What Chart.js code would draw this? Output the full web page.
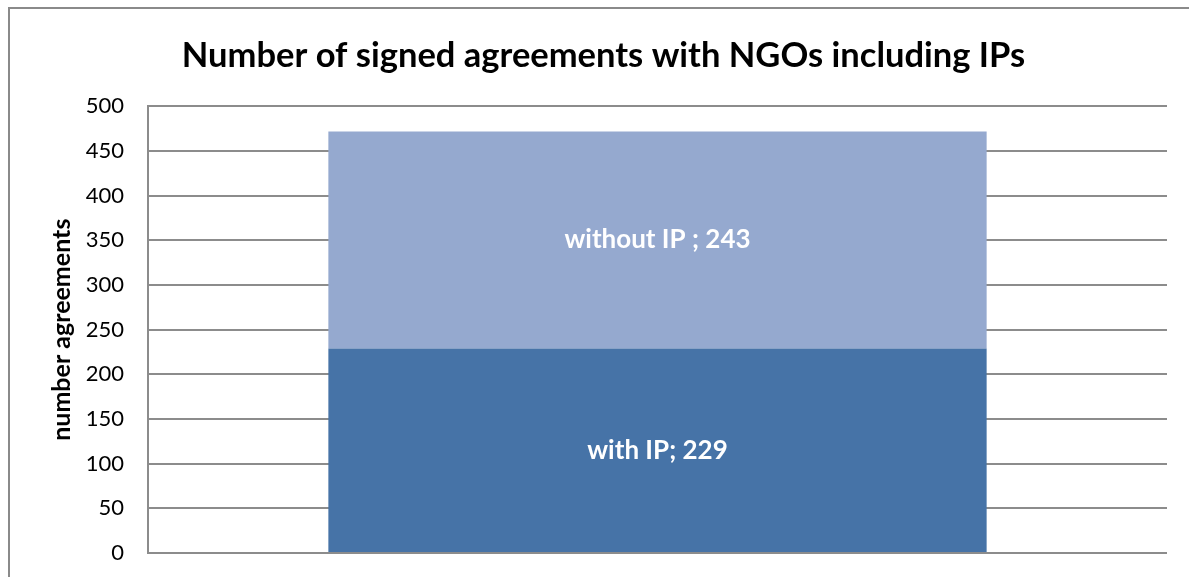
<!DOCTYPE html>
<html>
<head>
<meta charset="utf-8">
<script src="https://cdn.jsdelivr.net/npm/chart.js@4"></script>
<style>
  body { margin: 0; background: #fff; overflow: hidden; }
  #frame { position: absolute; left: 8px; top: 7px; width: 1200px; height: 600px; border: 2px solid #8a8a8a; box-sizing: border-box; }
  #wrap { position: absolute; left: 0; top: 0; width: 1189px; height: 577px; }
</style>
</head>
<body>
<div id="frame"></div>
<div id="wrap"><canvas id="chart" width="1189" height="577"></canvas></div>
<script>
const categories = [''];
const seriesNames = ['with IP', 'without IP '];
const withIP = [229];
const withoutIP = [243];
const yTicks = [0, 50, 100, 150, 200, 250, 300, 350, 400, 450, 500];

// writes "name; value" in the middle of each segment
const segmentLabels = {
  id: 'segmentLabels',
  afterDatasetsDraw(chart) {
    const ctx = chart.ctx;
    ctx.save();
    ctx.fillStyle = '#fff';
    ctx.font = 'bold 26px Lato';
    ctx.textAlign = 'center';
    ctx.textBaseline = 'middle';
    chart.data.datasets.forEach((ds, i) => {
      chart.getDatasetMeta(i).data.forEach((bar, j) => {
        const mid = (bar.y + bar.base) / 2;
        ctx.fillText(ds.label + '; ' + ds.data[j], bar.x, mid);
      });
    });
    ctx.restore();
  }
};

new Chart(document.getElementById('chart'), {
  type: 'bar',
  data: {
    labels: categories,
    datasets: [
      { label: seriesNames[0], data: withIP, backgroundColor: '#4673a7' },
      { label: seriesNames[1], data: withoutIP, backgroundColor: '#95a9cf' }
    ]
  },
  options: {
    responsive: false,
    animation: false,
    layout: { padding: { left: 20, right: 2, top: 0, bottom: 24 } },
    barPercentage: 0.646,
    categoryPercentage: 1,
    plugins: {
      legend: { display: false },
      tooltip: { enabled: false },
      title: {
        display: true,
        text: 'Number of signed agreements with NGOs including IPs',
        color: '#000',
        font: { family: 'Lato', size: 34.5, weight: 'bold' },
        padding: { top: 35, bottom: 30 }
      }
    },
    scales: {
      x: {
        stacked: true,
        display: false
      },
      y: {
        stacked: true,
        min: 0,
        max: 500,
        afterBuildTicks(scale) { scale.ticks = yTicks.map(v => ({ value: v })); },
        afterFit(scale) {
          scale.width = 128;
          scale.paddingTop = 0;
          scale.paddingBottom = 0;
        },
        ticks: { color: '#000', font: { family: 'Lato', size: 22 }, padding: 24 },
        grid: { color: '#8c8c8c', lineWidth: 2, drawTicks: false },
        border: { color: '#8c8c8c', width: 2 },
        title: {
          display: true,
          text: 'number agreements',
          color: '#000',
          font: { family: 'Lato', size: 25, weight: 'bold' },
          padding: { top: 27, bottom: 0 }
        }
      },
      // empty right-hand gutter
      gutter: {
        position: 'right',
        ticks: { display: false },
        grid: { display: false },
        border: { display: false },
        afterFit(scale) {
          scale.width = 20;
          scale.paddingTop = 0;
          scale.paddingBottom = 0;
        }
      }
    }
  },
  plugins: [segmentLabels]
});
</script>
</body>
</html>
